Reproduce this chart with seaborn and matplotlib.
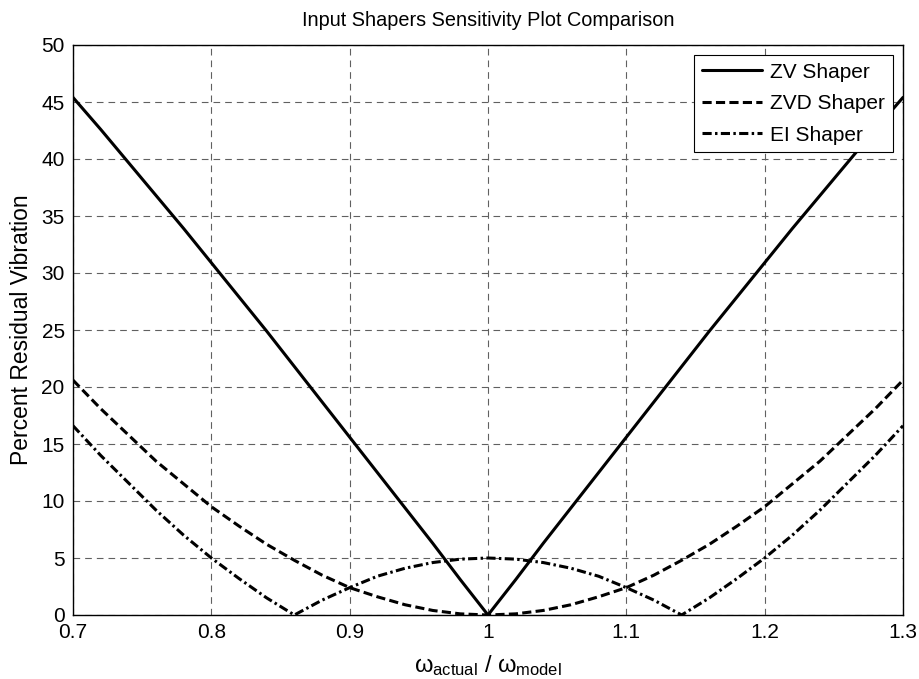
import matplotlib
matplotlib.use("Agg")
import matplotlib.pyplot as plt
import seaborn as sns
import pandas as pd

# Frequency ratio samples
freq_ratio = [0.70, 0.72, 0.74, 0.76, 0.78, 0.80, 0.82, 0.84, 0.86, 0.88,
              0.90, 0.92, 0.94, 0.96, 0.98, 1.00, 1.02, 1.04, 1.06, 1.08,
              1.10, 1.12, 1.14, 1.16, 1.18, 1.20, 1.22, 1.24, 1.26, 1.28, 1.30]

zv_vals = [45.4, 42.6, 39.7, 36.8, 33.9, 30.9, 27.9, 24.9, 21.8, 18.7,
           15.6, 12.5, 9.4, 6.3, 3.1, 0.0, 3.1, 6.3, 9.4, 12.5,
           15.6, 18.7, 21.8, 24.9, 27.9, 30.9, 33.9, 36.8, 39.7, 42.6, 45.4]

zvd_vals = [20.6, 18.1, 15.8, 13.5, 11.5, 9.5, 7.8, 6.2, 4.8, 3.5,
            2.4, 1.6, 0.9, 0.4, 0.1, 0.0, 0.1, 0.4, 0.9, 1.6,
            2.4, 3.5, 4.8, 6.2, 7.8, 9.5, 11.5, 13.5, 15.8, 18.1, 20.6]

ei_vals = [16.6, 14.0, 11.6, 9.2, 7.0, 5.0, 3.2, 1.5, 0.0, 1.3,
           2.4, 3.4, 4.1, 4.6, 4.9, 5.0, 4.9, 4.6, 4.1, 3.4,
           2.4, 1.3, 0.0, 1.5, 3.2, 5.0, 7.0, 9.2, 11.6, 14.0, 16.6]

series_names = ["ZV Shaper", "ZVD Shaper", "EI Shaper"]
x_ticks = [0.7, 0.8, 0.9, 1.0, 1.1, 1.2, 1.3]
x_tick_labels = ["0.7", "0.8", "0.9", "1", "1.1", "1.2", "1.3"]
y_ticks = [0, 5, 10, 15, 20, 25, 30, 35, 40, 45, 50]

sns.set_style("white")
plt.rcParams['font.family'] = ['Liberation Sans', 'DejaVu Sans']
plt.rcParams['mathtext.fontset'] = 'custom'
plt.rcParams['mathtext.rm'] = 'Liberation Sans'
plt.rcParams['mathtext.it'] = 'Liberation Sans'
plt.rcParams['text.color'] = 'black'
plt.rcParams['axes.labelcolor'] = 'black'

fig = plt.figure(figsize=(9.2, 6.79), dpi=100)
ax = fig.add_axes([73/920, 64/679, 830/920, 570/679])

df = pd.DataFrame({"r": freq_ratio, "ZV": zv_vals, "ZVD": zvd_vals, "EI": ei_vals})

styles = ["-", (0, (3.0, 1.4)), (0, (3.0, 1.1, 0.8, 1.1))]
for col, name, ls in zip(["ZV", "ZVD", "EI"], series_names, styles):
    sns.lineplot(data=df, x="r", y=col, ax=ax, color="black", linewidth=2.2,
                 linestyle=ls, label=name)

ax.set_xlim(0.7, 1.3)
ax.set_ylim(0, 50)
ax.set_xticks(x_ticks)
ax.set_xticklabels(x_tick_labels)
ax.set_yticks(y_ticks)
ax.tick_params(direction="in", length=5, width=0.8, labelsize=15, colors="black")
ax.tick_params(axis="x", pad=6)
ax.tick_params(axis="y", pad=6)
ax.grid(True, color="#606060", linestyle=(0, (6, 4.5)), linewidth=0.8)
for s in ax.spines.values():
    s.set_visible(True)
    s.set_color("black")
    s.set_linewidth(1.0)

ax.set_title("Input Shapers Sensitivity Plot Comparison", fontsize=14.3, pad=14, color="black")
ax.set_ylabel("Percent Residual Vibration", fontsize=16.5, labelpad=6)
ax.set_xlabel(r"$\mathregular{\omega_{actual}}$ / $\mathregular{\omega_{model}}$", fontsize=17, labelpad=8)

leg = ax.legend(loc="upper right", fontsize=15, frameon=True, fancybox=False,
                edgecolor="black", framealpha=1, handlelength=2.9,
                borderaxespad=0.5, labelspacing=0.6, handletextpad=0.4,
                borderpad=0.35)
leg.get_frame().set_linewidth(0.8)

fig.savefig("out.png", dpi=100)
